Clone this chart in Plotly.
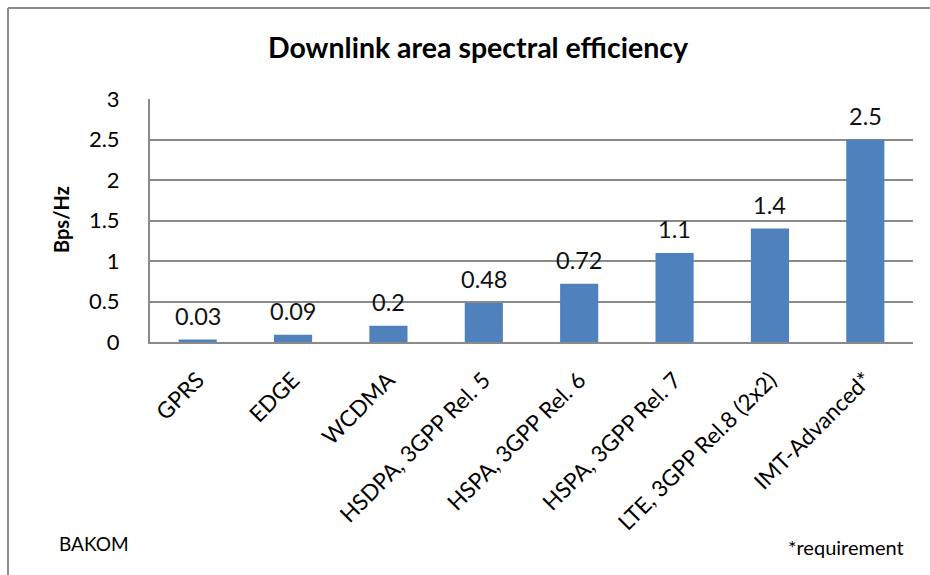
import plotly.graph_objects as go

# Downlink area spectral efficiency per radio technology
technologies = [
    "GPRS",
    "EDGE",
    "WCDMA",
    "HSDPA, 3GPP Rel. 5",
    "HSPA, 3GPP Rel. 6",
    "HSPA, 3GPP Rel. 7",
    "LTE, 3GPP Rel.8 (2x2)",
    "IMT-Advanced*",
]
efficiency = [0.03, 0.09, 0.2, 0.48, 0.72, 1.1, 1.4, 2.5]
value_labels = ["0.03", "0.09", "0.2", "0.48", "0.72", "1.1", "1.4", "2.5"]
y_ticks = [0, 0.5, 1, 1.5, 2, 2.5, 3]
y_tick_text = ["0", "0.5", "1", "1.5", "2", "2.5", "3"]

FONT = "Lato, 'Open Sans', sans-serif"
GRID = "#8a8a8a"
BAR = "#4f81bd"

W, H = 930, 575
L, R, T, B = 150, 17, 99, 233
pw, ph = W - L - R, H - T - B


def px_x(px):
    return (px - L) / pw


def px_y(py):
    return (H - B - py) / ph


fig = go.Figure()
fig.add_trace(go.Bar(
    x=technologies,
    y=efficiency,
    marker=dict(color=BAR, line=dict(width=0)),
    width=0.4,
    hoverinfo="x+y",
))

# value labels above each bar
for cat, val, lab in zip(technologies, efficiency, value_labels):
    fig.add_annotation(
        x=cat, y=val, text=lab, showarrow=False,
        yanchor="bottom", yshift=8,
        font=dict(family=FONT, size=23.5, color="#111"),
    )

# chart frame (top and left edges)
fig.add_shape(type="line", xref="paper", yref="paper",
              x0=px_x(8), x1=px_x(935), y0=px_y(8), y1=px_y(8),
              line=dict(color=GRID, width=2))
fig.add_shape(type="line", xref="paper", yref="paper",
              x0=px_x(8), x1=px_x(8), y0=px_y(8), y1=px_y(580),
              line=dict(color=GRID, width=2))

fig.add_annotation(
    xref="paper", yref="paper", x=px_x(478), y=px_y(47),
    text="<b>Downlink area spectral efficiency</b>", showarrow=False,
    xanchor="center", yanchor="middle",
    font=dict(family=FONT, size=28.5, color="#000"),
)
fig.add_annotation(
    xref="paper", yref="paper", x=px_x(61), y=px_y(220),
    text="<b>Bps/Hz</b>", showarrow=False, textangle=-90,
    xanchor="center", yanchor="middle",
    font=dict(family=FONT, size=20, color="#000"),
)
fig.add_annotation(
    xref="paper", yref="paper", x=px_x(57), y=px_y(543),
    text="BAKOM", showarrow=False, xanchor="left", yanchor="middle",
    font=dict(family=FONT, size=19, color="#000"),
)
fig.add_annotation(
    xref="paper", yref="paper", x=px_x(906), y=px_y(547),
    text="*requirement", showarrow=False, xanchor="right", yanchor="middle",
    font=dict(family=FONT, size=20, color="#000"),
)

fig.update_layout(
    width=W, height=H,
    margin=dict(l=L, r=R, t=T, b=B),
    paper_bgcolor="white", plot_bgcolor="white",
    showlegend=False,
    bargap=0.6,
)
fig.update_xaxes(
    type="category", tickangle=-45,
    tickfont=dict(family=FONT, size=22.5, color="#000"),
    showline=True, linecolor=GRID, linewidth=2,
    showgrid=False, ticks="", ticklabelstandoff=14,
    fixedrange=True,
)
fig.update_yaxes(
    range=[0, 3], tickvals=y_ticks, ticktext=y_tick_text,
    tickfont=dict(family=FONT, size=22, color="#000"),
    showline=True, linecolor=GRID, linewidth=2,
    showgrid=True, gridcolor=GRID, gridwidth=2,
    zeroline=False, ticks="", ticklabelstandoff=24,
    fixedrange=True,
)

fig.write_html("out.html")
